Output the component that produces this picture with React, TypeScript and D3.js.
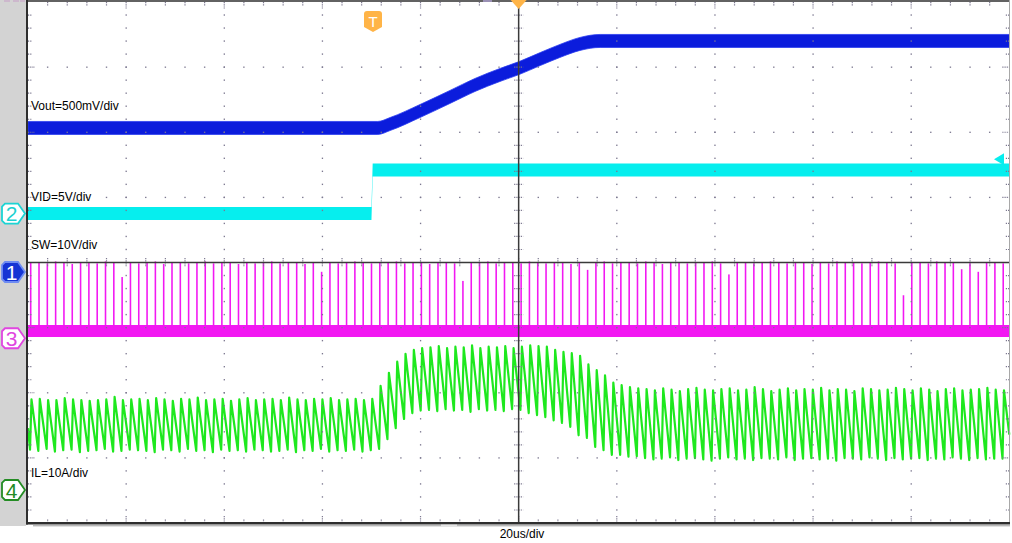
import React from 'react';
import * as d3 from 'd3';

const WIDTH = 1012;
const HEIGHT = 543;

// ---- axis settings (20 us/div, 10 div; 8 vertical div) ----
const timeDomain: [number, number] = [-100, 100];
const divDomain: [number, number] = [-4, 4];
const timePerDiv = 20;
const minorPerDiv = 5;
const timebaseLabel = '20us/div';

// ---- channels ----
const channelNumbers = ['1', '2', '3', '4'];
const channelLabels = ['Vout=500mV/div', 'VID=5V/div', 'SW=10V/div', 'IL=10A/div'];
const channelUnitsPerDiv = [0.5, 5, 10, 10];
const channelOffsetDiv = [-0.146, 0.752, -1.163, -3.493];

// ---- Vout (V) ----
const voutTime = [-100, -28.7, -26.2, -20.1, -14, -8.9, -3.8, 0.1, 4.4, 8.4, 12.5, 16.6, 100];
const voutValue = [1.106, 1.106, 1.136, 1.236, 1.344, 1.436, 1.513, 1.566, 1.635, 1.697, 1.751, 1.774, 1.774];

// ---- VID (V) ----
const vidTime = [-100, -30.0, -29.75, 100];
const vidValue = [0, 0, 3.34, 3.34];
const vidTriggerLevel = 4.25;

// ---- SW (V) ----
const swLowTime = [-100, 100];
const swLowValue = [1.11, 1.11];
const swPulseHeight = [
  11.6, 11.7, 11.5, 11.8, 11.6, 11.4, 11.7, 11.6, 11.5, 11.8,
  11.6, 9.4, 11.7, 11.5, 11.6, 11.8, 11.4, 11.6, 11.7, 11.5,
  11.6, 11.8, 11.5, 11.7, 11.6, 11.4, 11.7, 11.5, 11.6, 11.8,
  11.5, 11.6, 11.7, 11.4, 11.6, 10.2, 11.7, 11.5, 11.6, 11.8,
  11.6, 11.5, 11.7, 11.6, 11.8, 11.5, 11.7, 11.6, 11.4, 11.7,
  11.6, 11.5, 8.8, 11.7, 11.6, 11.8, 11.5, 11.6, 11.7, 11.5,
  11.8, 11.6, 11.5, 11.7, 11.6, 11.4, 11.7, 10.5, 11.6, 11.8,
  11.5, 11.7, 11.6, 11.5, 11.8, 11.6, 11.4, 11.7, 11.6, 11.5,
  11.7, 11.6, 11.8, 11.5, 9.8, 11.6, 11.7, 11.5, 11.6, 11.8,
  11.6, 11.5, 11.7, 11.6, 11.4, 11.7, 11.5, 11.8, 11.6, 11.7,
  11.5, 11.6, 11.8, 11.6, 11.5, 6.6, 11.7, 11.6, 11.5, 11.8,
  11.6, 11.7, 10.6, 11.5, 10.2, 11.6, 11.7, 11.5,
];

// ---- IL (A), one peak and the valley just before it, per switching cycle ----
const ilPeak = [
  13.9, 14.0, 13.8, 13.8, 14.1, 13.9, 13.8, 13.7, 13.8, 13.9, 14.3, 13.8, 13.9, 14.0,
  13.8, 14.1, 13.9, 13.7, 14.0, 13.9, 14.2, 13.8, 13.9, 14.0, 13.7, 13.9, 14.1, 13.8,
  13.9, 14.0, 13.8, 14.2, 13.9, 13.8, 14.0, 13.9, 14.1, 13.8, 13.9, 14.0, 13.8, 14.0,
  16.0, 18.0, 19.7, 20.9, 21.5, 21.8,
  21.9, 22.1, 21.8, 22.0, 21.9, 22.2, 21.8, 22.0, 21.9, 22.1, 21.8, 22.0, 22.2, 22.1,
  22.0, 21.5, 21.2, 21.0, 20.6, 19.3, 18.4, 17.6, 16.5, 16.1, 15.8, 15.6,
  15.5, 15.3, 15.6, 15.4, 15.2, 15.5, 15.7, 15.4, 15.3, 15.5,
  15.6, 15.3, 15.4, 15.8, 15.5, 15.2, 15.4, 15.6, 15.3, 15.5,
  15.4, 15.7, 15.3, 15.5, 15.4, 15.2, 15.6, 15.5, 15.3, 15.4,
  15.7, 15.5, 15.3, 15.6, 15.4, 15.2, 15.5, 15.6, 15.3, 15.4,
  15.5, 15.7, 15.4, 15.3,
];
const ilValley = [
  6.2, 6.0, 6.3, 5.9, 6.1, 6.2, 5.8, 6.0, 6.1, 6.3, 5.9, 6.0, 6.2, 6.1,
  6.0, 5.8, 6.2, 6.1, 5.9, 6.3, 6.0, 6.1, 5.8, 6.2, 6.0, 6.1, 5.9, 6.2,
  6.1, 5.9, 6.0, 6.2, 5.8, 6.1, 6.0, 6.3, 5.9, 6.1, 6.0, 6.2, 5.9, 6.1,
  6.3, 7.8, 9.5, 10.9, 11.8, 12.2,
  12.3, 12.1, 12.4, 12.2, 12.3, 12.0, 12.4, 12.2, 12.3, 12.1, 12.4, 12.3, 11.8, 11.5,
  11.2, 10.7, 10.3, 9.7, 8.4, 8.0, 6.6, 6.1, 5.4, 5.4, 5.1, 5.2,
  4.9, 4.7, 4.8, 5.0, 4.6, 4.8, 4.9, 4.7, 4.5, 4.8,
  5.0, 4.7, 4.8, 4.6, 4.9, 4.8, 4.7, 5.0, 4.6, 4.8,
  4.9, 4.7, 4.8, 4.5, 4.9, 4.8, 4.7, 5.0, 4.8, 4.6,
  4.9, 4.7, 4.8, 4.9, 4.6, 4.8, 4.7, 5.0, 4.8, 4.6,
  4.9, 4.7, 4.8, 4.8,
];
const ilHead = 9.5;
const ilTail = 8.5;
const firstPulseTime = -99.29;
const lastPulseTime = 98.92;
const onTime = 0.3;
const pulseWidthTime = 0.32;

// ---- styles ----
const traceColors = ['#0b1cdc', '#06eeee', '#f218f2', '#1ee81e'];
const gridColor = '#7c7890';
const FONT = '"Liberation Sans", Arial, Helvetica, sans-serif';

export default function App() {
  const x = d3.scaleLinear().domain(timeDomain).range([28, 1009.3]);
  const yDiv = d3.scaleLinear().domain(divDomain).range([523, 2]);
  const chY = (ch: number, v: number) => yDiv(v / channelUnitsPerDiv[ch] + channelOffsetDiv[ch]);

  const x0 = x(timeDomain[0]);
  const x1 = x(timeDomain[1]);
  const y0 = yDiv(divDomain[1]);
  const y1 = yDiv(divDomain[0]);
  const xc = x(0);
  const yc = yDiv(0);

  // grid positions
  const minorT = d3.range(timeDomain[0], timeDomain[1] + 0.001, timePerDiv / minorPerDiv);
  const majorT = d3.range(timeDomain[0], timeDomain[1] + 0.001, timePerDiv);
  const minorD = d3.range(divDomain[0], divDomain[1] + 0.001, 1 / minorPerDiv);
  const majorD = d3.range(divDomain[0], divDomain[1] + 0.001, 1);
  const isMajorT = (t: number) => Math.abs(t / timePerDiv - Math.round(t / timePerDiv)) < 1e-6;
  const isMajorD = (d: number) => Math.abs(d - Math.round(d)) < 1e-6;

  const dots: JSX.Element[] = [];
  majorT.forEach((t, i) => {
    if (i === 0 || i === majorT.length - 1 || Math.abs(t) < 1e-6) return;
    minorD.forEach((d, j) => {
      if (j === 0 || j === minorD.length - 1) return;
      dots.push(<rect key={`vd${i}-${j}`} x={x(t) - 0.6} y={yDiv(d) - 0.7} width={1.3} height={1.4} fill={gridColor} />);
    });
  });
  majorD.forEach((d, i) => {
    if (i === 0 || i === majorD.length - 1 || Math.abs(d) < 1e-6) return;
    minorT.forEach((t, j) => {
      if (j === 0 || j === minorT.length - 1) return;
      dots.push(<rect key={`hd${i}-${j}`} x={x(t) - 0.7} y={yDiv(d) - 0.6} width={1.4} height={1.3} fill={gridColor} />);
    });
  });

  const ticks: JSX.Element[] = [];
  minorD.forEach((d, j) => {
    if (j === 0 || j === minorD.length - 1) return;
    const yy = yDiv(d);
    const len = isMajorD(d) ? 7 : 3.5;
    ticks.push(<line key={`lt${j}`} x1={x0} x2={x0 + len} y1={yy} y2={yy} stroke={gridColor} strokeWidth={1.2} strokeDasharray="1.2,1" />);
    ticks.push(<line key={`rt${j}`} x1={x1 - len} x2={x1} y1={yy} y2={yy} stroke={gridColor} strokeWidth={1.2} strokeDasharray="1.2,1" />);
    ticks.push(<line key={`ct${j}`} x1={xc - 4.5} x2={xc + 4.5} y1={yy} y2={yy} stroke={gridColor} strokeWidth={1.2} strokeDasharray="1.2,1" />);
  });
  minorT.forEach((t, j) => {
    if (j === 0 || j === minorT.length - 1) return;
    const xx = x(t);
    const len = isMajorT(t) ? 7 : 3.5;
    ticks.push(<line key={`tt${j}`} x1={xx} x2={xx} y1={y0} y2={y0 + len} stroke={gridColor} strokeWidth={1.2} strokeDasharray="1.2,1" />);
    ticks.push(<line key={`bt${j}`} x1={xx} x2={xx} y1={y1 - len} y2={y1} stroke={gridColor} strokeWidth={1.2} strokeDasharray="1.2,1" />);
    ticks.push(<line key={`mt${j}`} x1={xx} x2={xx} y1={yc - 4.5} y2={yc + 4.5} stroke={gridColor} strokeWidth={1.2} strokeDasharray="1.2,1" />);
  });

  // traces
  const HALF_BAND = 6.5;
  const bandArea = (ch: number, curve: d3.CurveFactory) =>
    d3.area<[number, number]>()
      .x((d) => x(d[0]))
      .y0((d) => chY(ch, d[1]) - HALF_BAND)
      .y1((d) => chY(ch, d[1]) + HALF_BAND)
      .curve(curve);

  const voutPts = voutTime.map((t, i) => [t, voutValue[i]] as [number, number]);
  const vidPts = vidTime.map((t, i) => [t, vidValue[i]] as [number, number]);
  const swPts = swLowTime.map((t, i) => [t, swLowValue[i]] as [number, number]);

  const voutPath = bandArea(0, d3.curveMonotoneX)(voutPts) || '';
  const vidPath = bandArea(1, d3.curveLinear)(vidPts) || '';
  const swPath = d3.area<[number, number]>()
    .x((d) => x(d[0]))
    .y0((d) => chY(2, d[1]) - 6)
    .y1((d) => chY(2, d[1]) + 6)(swPts) || '';

  const cycleTime = d3.scaleLinear().domain([0, ilPeak.length - 1]).range([firstPulseTime, lastPulseTime]);

  const ilPts: [number, number][] = [[timeDomain[0], ilHead]];
  ilPeak.forEach((p, k) => {
    const tk = cycleTime(k);
    ilPts.push([tk - onTime, ilValley[k]]);
    ilPts.push([tk, p]);
  });
  ilPts.push([timeDomain[1], ilTail]);
  const ilPath = d3.line<[number, number]>().x((d) => x(d[0])).y((d) => chY(3, d[1]))(ilPts) || '';

  const swPulses = swPulseHeight.map((h, k) => {
    const tk = cycleTime(k);
    const xa = x(tk - pulseWidthTime);
    const xb = x(tk);
    return (
      <rect key={`sw${k}`} x={xa} y={chY(2, h)} width={Math.max(1.5, xb - xa)} height={chY(2, swLowValue[0]) - chY(2, h)} fill={traceColors[2]} />
    );
  });

  // channel markers
  const markerPath = (cy: number) =>
    `M5,${cy - 10} L18,${cy - 10} L25,${cy} L18,${cy + 10} L5,${cy + 10} L2,${cy + 7} L2,${cy - 7} Z`;
  const markerStyles = [
    { fill: '#1634d4', stroke: '#6f8cf2', text: '#ffffff' },
    { fill: '#ffffff', stroke: '#1cd4d4', text: '#1cd0d0' },
    { fill: '#ffffff', stroke: '#e046e0', text: '#e046e0' },
    { fill: '#ffffff', stroke: '#248c24', text: '#248c24' },
  ];

  // label baselines (divisions)
  const labelDiv = [2.342, 0.944, 0.207, -3.286];

  const vidTrigY = chY(1, vidTriggerLevel);

  return (
    <svg width={WIDTH} height={HEIGHT} style={{ position: 'fixed', left: 0, top: 0, background: '#ffffff' }} fontFamily={FONT}>
      <rect x={0} y={0} width={WIDTH} height={HEIGHT} fill="#ffffff" />
      {/* left panel */}
      <rect x={0} y={0} width={26} height={526} fill="#d3d3d3" />
      <rect x={4} y={0} width={6} height={2} fill="#cdb8cd" />
      <rect x={13} y={0} width={6} height={2} fill="#cdb8cd" />
      <rect x={20} y={0} width={5} height={2} fill="#cdb8cd" />

      {/* traces */}
      <path d={voutPath} fill={traceColors[0]} stroke="#2a3cf0" strokeWidth={0.8} />
      <path d={vidPath} fill={traceColors[1]} />
      <path d={swPath} fill={traceColors[2]} />
      {swPulses}
      <path d={ilPath} fill="none" stroke={traceColors[3]} strokeWidth={2.2} strokeLinejoin="round" />

      {/* grid */}
      {dots}
      {ticks}
      <line x1={xc} x2={xc} y1={y0} y2={y1} stroke="#3a3a3a" strokeWidth={1.5} />
      <line x1={x0} x2={x1} y1={yc} y2={yc} stroke="#3a3a3a" strokeWidth={1.5} />

      {/* frame */}
      <line x1={27} x2={27} y1={0} y2={524.5} stroke="#2e2e2e" strokeWidth={2} />
      <line x1={26} x2={x1} y1={1} y2={1} stroke="#2e2e2e" strokeWidth={1.6} />
      <line x1={x1 + 0.2} x2={x1 + 0.2} y1={0} y2={524} stroke="#a8a8a8" strokeWidth={1} />
      <line x1={26} x2={x1 + 0.7} y1={523.3} y2={523.3} stroke="#2e2e2e" strokeWidth={2.4} />
      <line x1={33} x2={x1 + 0.7} y1={525.8} y2={525.8} stroke="#9a9a9a" strokeWidth={1} />
      <rect x={441} y={524.6} width={16} height={2.4} fill="#e4e4e4" />
      <rect x={483} y={0} width={9} height={2} fill="#9a90b4" />

      {/* trigger markers */}
      <path d={`M${xc - 8},0 L${xc + 8},0 L${xc},9 Z`} fill="#ffb447" />
      <path d="M367,11 L379,11 Q382,11 382,14 L382,27 L373,32 L364,27 L364,14 Q364,11 367,11 Z" fill="#ffb447" />
      <text x={373} y={27} textAnchor="middle" fontSize={15} fill="#ffffff">T</text>
      <path d={`M994,${vidTrigY + 1} L1004,${vidTrigY - 5} L1004,${vidTrigY + 7} Z`} fill={traceColors[1]} />

      {/* channel markers */}
      {channelNumbers.map((n, ch) => {
        const cy = chY(ch, 0);
        const st = markerStyles[ch];
        return (
          <g key={`m${ch}`}>
            <path d={markerPath(cy)} fill={st.fill} stroke={st.stroke} strokeWidth={1.8} />
            <text x={11.5} y={cy + 7.6} textAnchor="middle" fontSize={21} fill={st.text}>{n}</text>
          </g>
        );
      })}

      {/* channel labels */}
      {channelLabels.map((l, ch) => (
        <text key={`l${ch}`} x={31} y={yDiv(labelDiv[ch])} fontSize={12} fill="#000000">{l}</text>
      ))}

      <text x={522} y={538} textAnchor="middle" fontSize={12} fill="#000000">{timebaseLabel}</text>
    </svg>
  );
}
